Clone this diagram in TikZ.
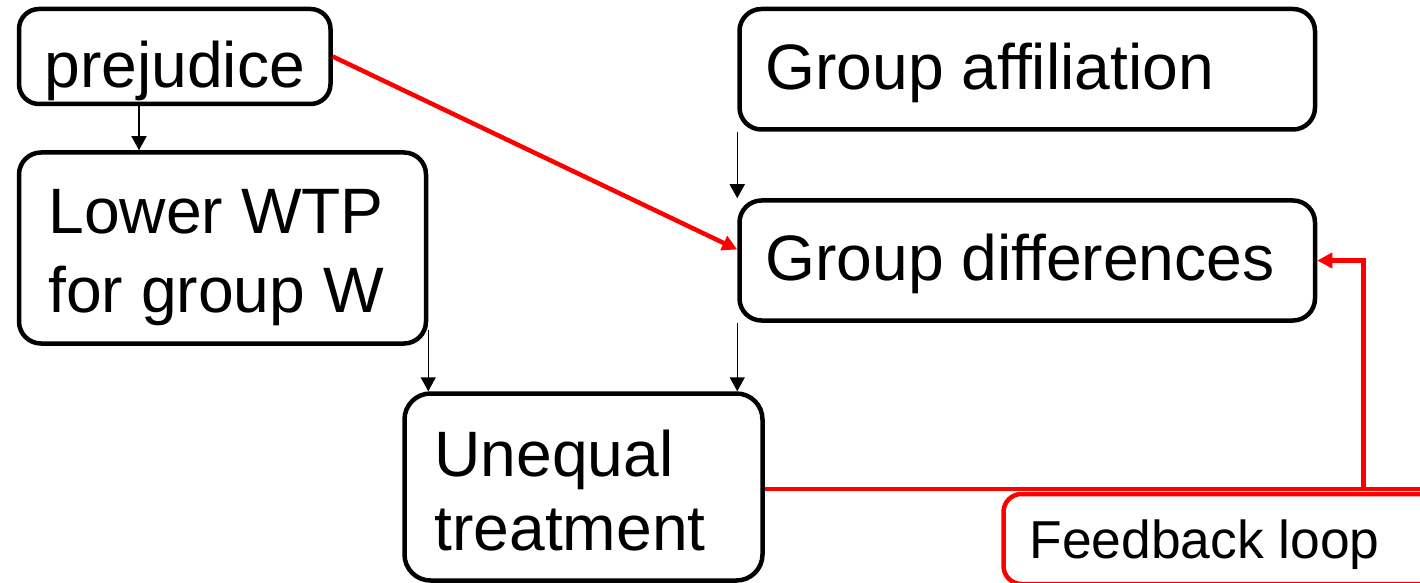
\documentclass[tikz,border=0pt]{standalone}
\usepackage{fontspec}
\setmainfont{Liberation Sans}
\usetikzlibrary{arrows.meta}

\tikzset{
  box/.style={draw=black, line width=2.25pt, rounded corners=11pt, inner sep=0pt},
  loopbox/.style={draw=red, line width=2.25pt, rounded corners=9pt, inner sep=0pt},
  bigtext/.style={inner sep=0pt, anchor=base west, font=\fontsize{32.1}{38}\selectfont},
  smalltext/.style={inner sep=0pt, anchor=base west, font=\fontsize{26.7}{32}\selectfont},
  link/.style={draw=black, line width=0.75pt, -{Triangle[length=7pt,width=7.5pt]}},
  redlink/.style={draw=red, line width=2.25pt, -{Triangle[length=7.5pt,width=7.5pt]}},
  redline/.style={draw=red, line width=2.25pt},
}

\begin{document}
\begin{tikzpicture}[x=0.5pt,y=-0.5pt]
\useasboundingbox (0,0) rectangle (1420,583);
\clip (0,0) rectangle (1420,583);

% boxes
\node[box, rounded corners=10pt, minimum width=155.75pt, minimum height=47.5pt] (prej) at (174.75,56.5) {};
\node[box, minimum width=203.5pt, minimum height=95.5pt] (wtp) at (222.5,248) {};
\node[box, minimum width=287.75pt, minimum height=60.25pt] (ga) at (1027.25,69.25) {};
\node[box, minimum width=287.75pt, minimum height=60pt] (gd) at (1027.25,260.5) {};
\node[box, rounded corners=13pt, minimum width=179pt, minimum height=93.5pt] (ut) at (583.5,487) {};
\node[loopbox, minimum width=230pt, minimum height=45pt] (fb) at (1233.5,539) {};

% labels
\node[bigtext] (prejt) at (44,88) {prejudice};
\node[bigtext] (wtpa) at (48,234) {Lower WTP};
\node[bigtext] (wtpb) at (48,312) {for group W};
\node[bigtext] (gat) at (765,90) {Group affiliation};
\node[bigtext] (gdt) at (765,280) {Group differences};
\node[bigtext] (uta) at (434,476) {Unequal};
\node[bigtext] (utb) at (434,550) {treatment};
\node[smalltext] (fbt) at (1029,558) {Feedback loop};

% causal links
\coordinate (c1) at (139,0);
\draw[link] (prej.south -| c1) -- (wtp.north -| c1);
\draw[link] (ga.south west) -- (gd.north west);
\draw[link] ([yshift=8pt]wtp.south east) -- (wtp.south east |- ut.north);
\draw[link] (gd.south west) -- (gd.south west |- ut.north);
\draw[redlink] (prej.east) -- ([yshift=5.5pt]gd.west);

% feedback path
\coordinate (edge) at (1440,489);
\coordinate (turn) at (1363.5,489);
\draw[redline] (ut.east |- edge) -- (edge);
\draw[redlink] (turn) |- (gd.east);
\end{tikzpicture}
\end{document}
